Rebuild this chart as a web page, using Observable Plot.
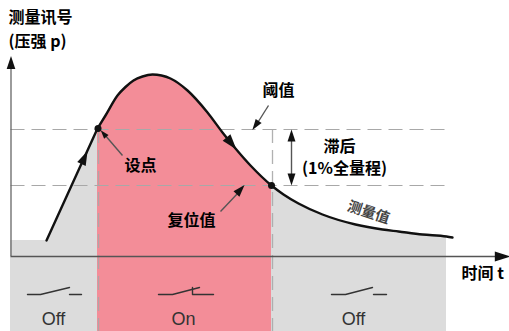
<!DOCTYPE html>
<html><head><meta charset="utf-8">
<script src="https://cdn.jsdelivr.net/npm/d3@7"></script>
<script src="https://cdn.jsdelivr.net/npm/@observablehq/plot@0.6"></script>
<style>html,body{margin:0;padding:0;background:#fff}svg{display:block}</style>
</head><body><div id="chart"></div>
<script>
const riseTime = [10, 46, 97];
const riseSignal = [240, 240, 128];
const fallTime = [97,105,117,125,133,142,152,161,170,187,207,222,235,250,271,283,298,322,355,382,398,422,446,452];
const fallSignal = [128,115,95,86.5,80,76,74,75,78,90,112,132,148,165,185,194,203,214,224,229,231,234,236,237];
const onStart = 98, onEnd = 272, chartBottom = 331, offEnd = 446;
const setPoint = 129, resetPoint = 185;
const axisLeft = 10.5, axisBase = 256, axisTop = 62, axisRight = 502;
const switchOffA = [[27,294],[40,294],[69,287]];
const switchOffB = [[69,294],[81,294]];
const switchOnA = [[158,294],[172,294],[199,287]];
const switchOnB = [[192,287],[192,294],[213,294]];
const switchOff2A = [[331,294],[345,294],[372,287]];
const switchOff2B = [[373,294],[386,294]];
const leaders = [
  {x1:122,y1:155,x2:104,y2:134},
  {x1:268,y1:105,x2:256,y2:124},
  {x1:220,y1:211,x2:238,y2:192},
  {x1:291,y1:135,x2:291,y2:179}
];
const heads = [
  {x:84,y:157,r:6.5,a:25},{x:231,y:143,r:7,a:140},
  {x:103,y:133,r:4,a:-40},{x:255,y:125,r:5,a:-145},{x:240,y:189,r:5.5,a:42},
  {x:291,y:135,r:5.5,a:0},{x:291,y:179,r:5.5,a:180},
  {x:10.5,y:62,r:6,a:0},{x:502,y:256,r:7,a:90}
];
const dots = [{x:97.5,y:128},{x:271,y:185}];
const startLabels = [
  {t:"测量讯号",x:8,y:17},
  {t:"(压强 p)",x:8,y:41},
  {t:"时间 t",x:461,y:273}
];
const middleLabels = [
  {t:"设点",x:140,y:165},
  {t:"阈值",x:278,y:90},
  {t:"滞后",x:339,y:146},
  {t:"(1%全量程)",x:344,y:168},
  {t:"复位值",x:191,y:220}
];
const stateLabels = [{t:"Off",x:53},{t:"On",x:183},{t:"Off",x:353}];

const rows = (xs, ys) => xs.map((x,i)=>({x, y:ys[i]}));
const curve = rows(fallTime, fallSignal);
const pts = a => a.map(([x,y])=>({x,y}));
const arrowHead = {draw(c,size){const r=Math.sqrt(size/Math.PI);c.moveTo(0,-r*1.1);c.lineTo(r*0.72,r*1.1);c.lineTo(-r*0.72,r*1.1);c.closePath();}};
const switchColor = "#333";
const dash = "#a8a8a8";
const sw = a => Plot.line(pts(a),{x:"x",y:"y",stroke:switchColor,strokeWidth:1.4});
const font = "'Noto Sans CJK SC','Liberation Sans',sans-serif";

const plot = Plot.plot({
  width:509,height:331,margin:0,
  x:{domain:[0,509],range:[0,509],axis:null},
  y:{domain:[0,331],range:[0,331],axis:null},
  r:{type:"identity"},
  style:{background:"#fff",fontFamily:font},
  marks:[
    Plot.areaY(rows(riseTime,riseSignal).concat([{x:onStart,y:128}]),{x:"x",y1:chartBottom,y2:"y",fill:"#dcdcdc"}),
    Plot.areaY(curve.filter(d=>d.x<=onEnd),{x:"x",y1:chartBottom,y2:"y",fill:"#f38d98",curve:"monotone-x"}),
    Plot.areaY(curve.filter(d=>d.x>=onEnd-1&&d.x<=offEnd),{x:"x",y1:chartBottom,y2:"y",fill:"#dcdcdc",curve:"monotone-x"}),
    Plot.ruleY([setPoint,resetPoint],{x1:axisLeft,x2:445,stroke:dash,strokeWidth:1.2,strokeDasharray:"14,7"}),
    Plot.ruleX([onStart,onEnd],{y1:setPoint,y2:chartBottom,stroke:dash,strokeOpacity:0.9,strokeWidth:1.3,strokeDasharray:"14,7"}),
    Plot.ruleX([axisLeft],{y1:axisTop,y2:axisBase,stroke:"#666",strokeWidth:1.3}),
    Plot.ruleY([axisBase],{x1:axisLeft,x2:axisRight,stroke:"#555",strokeWidth:1.3}),
    Plot.line(rows(riseTime.slice(1),riseSignal.slice(1)),{x:"x",y:"y",stroke:"#111",strokeWidth:2.4}),
    Plot.line(curve,{x:"x",y:"y",stroke:"#111",strokeWidth:2.4,curve:"monotone-x"}),
    Plot.link(leaders,{x1:"x1",y1:"y1",x2:"x2",y2:"y2",stroke:"#555",strokeWidth:1.4}),
    Plot.dot(heads,{x:"x",y:"y",r:"r",rotate:"a",symbol:arrowHead,fill:"#111",stroke:"none"}),
    Plot.dot(dots,{x:"x",y:"y",r:3.5,fill:"#111",stroke:"none"}),
    sw(switchOffA),sw(switchOffB),sw(switchOnA),sw(switchOnB),sw(switchOff2A),sw(switchOff2B),
    Plot.text(startLabels,{x:"x",y:"y",text:"t",textAnchor:"start",fontSize:16,fontWeight:"bold",fill:"#000",fontFamily:font}),
    Plot.text(middleLabels,{x:"x",y:"y",text:"t",fontSize:16,fontWeight:"bold",fill:"#000",fontFamily:font}),
    Plot.text(["测量值"],{x:[368],y:[212],rotate:18,fontSize:14.5,fontWeight:"bold",fill:"#444",fontFamily:font}),
    Plot.text(stateLabels,{x:"x",y:319,text:"t",fontSize:18,fill:"#333",fontFamily:"'Liberation Sans',sans-serif"})
  ]
});
document.getElementById("chart").append(plot);
</script></body></html>
